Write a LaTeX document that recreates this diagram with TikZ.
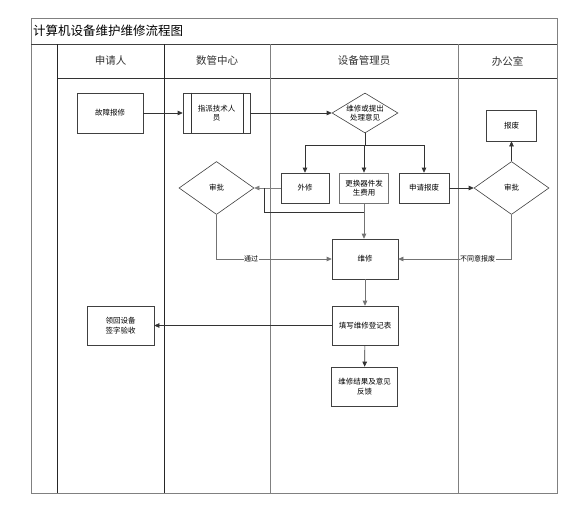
\documentclass[tikz,border=0pt]{standalone}
\usepackage{fontspec}
\setmainfont{Noto Sans CJK SC}
\usetikzlibrary{arrows.meta,shapes.geometric}
\begin{document}
\begin{tikzpicture}[x=1pt,y=-1pt,
  box/.style={draw=black!75,line width=0.6pt,inner sep=1pt,align=center,
    font=\fontsize{7.5}{9.5}\selectfont},
  dia/.style={diamond,draw=black!75,line width=0.6pt,inner sep=0pt},
  txt/.style={align=center,inner sep=0pt,font=\fontsize{7.5}{9.5}\selectfont},
  arr/.style={draw=black!80,line width=0.6pt,-{Triangle[length=5pt,width=4.5pt]}},
  ln/.style={draw=black!80,line width=0.6pt},
  lbl/.style={fill=white,inner sep=0.5pt,font=\fontsize{7}{8}\selectfont},
  hdr/.style={font=\fontsize{10.5}{12}\selectfont,text=black!80},
  lane/.style={line width=0.8pt}]
\useasboundingbox (0,0) rectangle (574,509);
% frame
\draw[lane,draw=black!50] (31,18) rectangle (557,493);
\draw[lane,draw=black!75] (31,44) -- (557,44);
\draw[lane,draw=black!80] (57,78) -- (557,78);
\draw[lane,draw=black!85] (57,44) -- (57,493);
\draw[lane,draw=black!85] (164,44) -- (164,493);
\draw[lane,draw=black!50] (270,44) -- (270,493);
\draw[lane,draw=black!50] (458,44) -- (458,493);
\node[anchor=west,inner sep=0pt,font=\fontsize{12.5}{14}\selectfont] (title) at (33,31) {计算机设备维护维修流程图};
\node[hdr] (h1) at (110.5,61) {申请人};
\node[hdr] (h2) at (217,61) {数管中心};
\node[hdr] (h3) at (364,61) {设备管理员};
\node[hdr] (h4) at (507.5,61) {办公室};
% nodes
\node[box,minimum width=66,minimum height=40] (a) at (110,113) {故障报修};
\node[box,minimum width=67,minimum height=40] (p) at (216.5,113) {指派技术人\\员};
\draw[ln] ([xshift=9]p.north west) -- ([xshift=9]p.south west);
\draw[ln] ([xshift=-7]p.north east) -- ([xshift=-7]p.south east);
\node[dia,minimum width=66,minimum height=40] (d1) at (365,113) {};
\node[txt] (d1t) at (d1) {维修或提出\\处理意见};
\node[box,minimum width=48,minimum height=30] (wx) at (305,188) {外修};
\node[box,draw=black!55,line width=0.8pt,minimum width=49,minimum height=30] (gh) at (364,188) {更换器件发\\生费用};
\node[box,minimum width=50,minimum height=30] (sq) at (424,188) {申请报废};
\node[dia,minimum width=75,minimum height=53] (sp1) at (216.5,188) {};
\node[txt] (sp1t) at (sp1) {审批};
\node[dia,minimum width=75,minimum height=53] (sp2) at (511.5,188) {};
\node[txt] (sp2t) at (sp2) {审批};
\node[box,minimum width=50,minimum height=31] (bf) at (511.5,125.5) {报废};
\node[box,minimum width=66,minimum height=40] (wxiu) at (365,259) {维修};
\node[box,minimum width=66,minimum height=39] (tx) at (365,325.5) {填写维修登记表};
\node[box,minimum width=67,minimum height=39] (lh) at (120.5,325.5) {领回设备\\签字验收};
\node[box,minimum width=66,minimum height=39] (fk) at (364.5,386.5) {维修结果及意见\\反馈};
% connectors
\draw[arr] (a) -- (p);
\draw[arr] (p) -- (d1);
\coordinate (br) at (365,145);
\draw[ln] (d1.south) -- (br);
\draw[arr] (br) -| (wx.north);
\draw[arr] (br) -| (gh.north);
\draw[arr] (br) -| (sq.north);
\draw[arr,draw=black!50] (wx) -- (sp1);
\coordinate (ja) at (264,212);
\draw[ln] (ja |- sp1.east) -- (ja) -- (ja -| gh.south);
\draw[arr,draw=black!55] (gh.south) -- (gh.south |- wxiu.north);
\draw[arr,draw=black!55] (sp1.south) |- node[lbl,pos=0.65]{通过} (wxiu.west);
\draw[arr] (sq) -- (sp2);
\draw[arr] (sp2) -- (bf);
\draw[arr,draw=black!55] (sp2.south) |- node[lbl,pos=0.65]{不同意报废} (wxiu.east);
\draw[arr,draw=black!55] (wxiu) -- (tx);
\draw[arr] (tx) -- (lh);
\draw[arr] (tx) -- (fk);
\end{tikzpicture}
\end{document}
